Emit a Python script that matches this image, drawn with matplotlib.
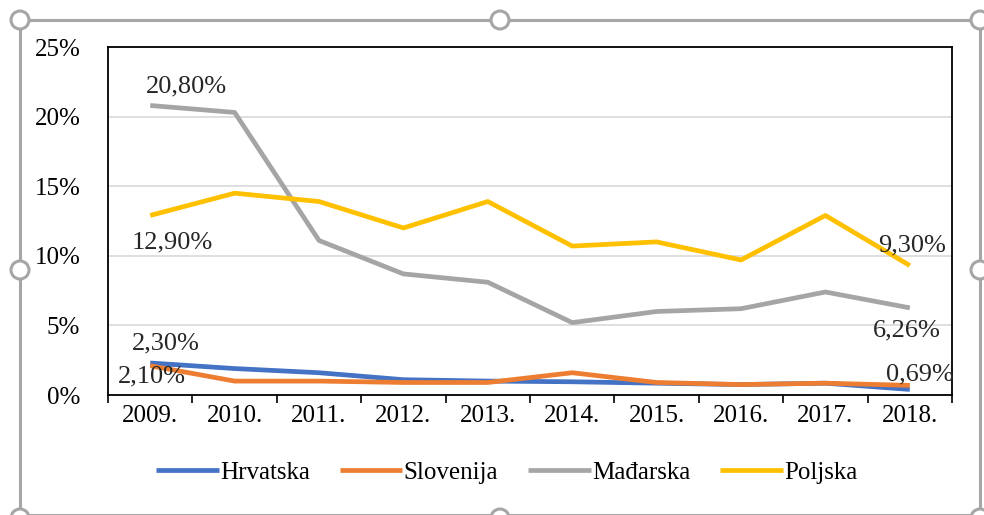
import matplotlib.pyplot as plt
from matplotlib.patches import Rectangle, Circle

# Data (share in %)
years = ["2009.", "2010.", "2011.", "2012.", "2013.", "2014.", "2015.", "2016.", "2017.", "2018."]
hrvatska = [2.30, 1.9, 1.6, 1.1, 1.0, 0.95, 0.85, 0.75, 0.85, 0.40]
slovenija = [2.10, 1.0, 1.0, 0.9, 0.9, 1.6, 0.9, 0.75, 0.85, 0.69]
madarska = [20.80, 20.3, 11.1, 8.7, 8.1, 5.2, 6.0, 6.2, 7.4, 6.26]
poljska = [12.90, 14.5, 13.9, 12.0, 13.9, 10.7, 11.0, 9.7, 12.9, 9.30]

series = {"Hrvatska": hrvatska, "Slovenija": slovenija, "Mađarska": madarska, "Poljska": poljska}
colors = {"Hrvatska": "#4472C4", "Slovenija": "#ED7D31", "Mađarska": "#A5A5A5", "Poljska": "#FFC000"}

plt.rcParams["font.family"] = ["Liberation Serif", "DejaVu Serif"]

fig = plt.figure(figsize=(9.84, 5.15), dpi=100)
ax = fig.add_axes([0.1098, 0.233, 0.8577, 0.6757])

x = list(range(len(years)))
for name, vals in series.items():
    ax.plot(x, vals, color=colors[name], linewidth=3.4, label=name, solid_capstyle="butt")

ax.set_xlim(-0.5, len(years) - 0.5)
ax.set_ylim(0, 25)
ax.set_yticks([0, 5, 10, 15, 20, 25])
ax.set_yticklabels([f"{v}%" for v in [0, 5, 10, 15, 20, 25]], fontsize=18)
ax.set_xticks(x)
ax.set_xticklabels(years, fontsize=18)
ax.set_xticks([i + 0.5 for i in range(-1, len(years))], minor=True)
ax.tick_params(axis="x", which="major", length=0, pad=7)
ax.tick_params(axis="x", which="minor", length=6, width=1.2, direction="out")
ax.tick_params(axis="y", length=0, pad=20)
ax.grid(axis="y", color="#D9D9D9", linewidth=1.2)
ax.set_axisbelow(True)
for sp in ax.spines.values():
    sp.set_color("black")
    sp.set_linewidth(1.3)

def fmt(v):
    return f"{v:.2f}%".replace(".", ",")

lab_kw = dict(fontsize=19, color="#262626", textcoords="offset pixels")
ax.annotate(fmt(madarska[0]), (0, madarska[0]), xytext=(-4, 8), ha="left", va="bottom", **lab_kw)
ax.annotate(fmt(poljska[0]), (0, poljska[0]), xytext=(-19, -16), ha="left", va="top", **lab_kw)
ax.annotate(fmt(hrvatska[0]), (0, hrvatska[0]), xytext=(-18, 20), ha="left", va="center", **lab_kw)
ax.annotate(fmt(slovenija[0]), (0, slovenija[0]), xytext=(-32, -11), ha="left", va="center", **lab_kw)
ax.annotate(fmt(poljska[-1]), (9, poljska[-1]), xytext=(-32, 20), ha="left", va="center", **lab_kw)
ax.annotate(fmt(madarska[-1]), (9, madarska[-1]), xytext=(-37, -23), ha="left", va="center", **lab_kw)
ax.annotate(fmt(slovenija[-1]), (9, slovenija[-1]), xytext=(-24, 11), ha="left", va="center", **lab_kw)

leg = fig.legend(loc="center", bbox_to_anchor=(0.515, 0.082), ncol=4, frameon=False,
                 fontsize=18, handlelength=2.5, handletextpad=0.05, columnspacing=1.2)

# chart selection frame
W, H = 984, 515
frame = Rectangle((20 / W, 0), 960 / W, (H - 20) / H, transform=fig.transFigure,
                  fill=False, edgecolor="#A6A6A6", linewidth=2.2)
fig.patches.append(frame)
for px, py in [(20, 20), (500, 20), (980, 20), (20, 270), (980, 270), (20, 518), (500, 518), (980, 518)]:
    c = Circle((px / 100, (H - py) / 100), 0.09, transform=fig.dpi_scale_trans,
               facecolor="white", edgecolor="#A6A6A6", linewidth=2.2)
    fig.patches.append(c)

fig.savefig("out.png", dpi=100)
